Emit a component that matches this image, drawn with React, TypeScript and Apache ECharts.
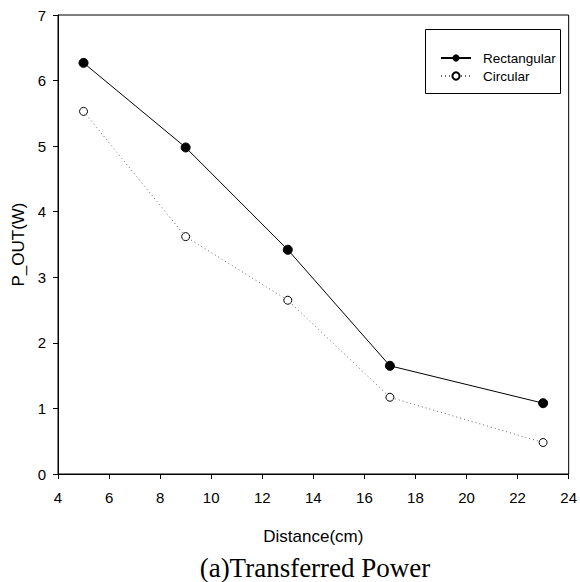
import React, { useEffect, useRef } from "react";
import * as echarts from "echarts";

const distances = [5, 9, 13, 17, 23];
const rectangular = [6.27, 4.98, 3.42, 1.65, 1.08];
const circular = [5.53, 3.62, 2.65, 1.17, 0.48];
const xTicks = { min: 4, max: 24, interval: 2 };
const yTicks = { min: 0, max: 7, interval: 1 };

const FONT = "Liberation Sans, Arial, sans-serif";

export default function App() {
  const ref = useRef<HTMLDivElement>(null);
  useEffect(() => {
    if (!ref.current) return;
    const chart = echarts.init(ref.current, undefined, { renderer: "svg" });
    chart.setOption({
      animation: false,
      backgroundColor: "#fff",
      grid: {
        left: 58,
        right: 8,
        top: 15,
        bottom: 108,
        show: true,
        borderColor: "#000",
        borderWidth: 1,
      },
      title: {
        text: "(a)Transferred Power",
        left: 310,
        textAlign: "center",
        top: 549,
        textStyle: {
          fontFamily: "Liberation Serif, Times New Roman, serif",
          fontSize: 27,
          fontWeight: "normal",
          color: "#000",
        },
      },
      legend: {
        orient: "vertical",
        left: 435,
        top: 46,
        itemWidth: 30,
        itemHeight: 9,
        itemGap: 4,
        textStyle: {
          fontFamily: FONT,
          fontSize: 13.5,
          color: "#000",
          padding: [0, 0, 0, 7],
        },
        data: ["Rectangular", "Circular"],
      },
      graphic: [
        {
          type: "rect",
          shape: { x: 425.5, y: 29.5, width: 135, height: 64 },
          style: { fill: "none", stroke: "#000", lineWidth: 1 },
          z: 10,
        },
      ],
      xAxis: {
        type: "value",
        min: xTicks.min,
        max: xTicks.max,
        interval: xTicks.interval,
        name: "Distance(cm)",
        nameLocation: "middle",
        nameGap: 54,
        nameTextStyle: { fontFamily: FONT, fontSize: 17, color: "#000" },
        axisLine: { show: true, lineStyle: { color: "#000", width: 1 } },
        axisTick: { show: true, inside: false, length: 5, lineStyle: { color: "#000" } },
        axisLabel: { fontFamily: FONT, fontSize: 15, color: "#000", margin: 16 },
        splitLine: { show: false },
      },
      yAxis: {
        type: "value",
        min: yTicks.min,
        max: yTicks.max,
        interval: yTicks.interval,
        name: "P_OUT(W)",
        nameLocation: "middle",
        nameGap: 30,
        nameRotate: 90,
        nameTextStyle: { fontFamily: FONT, fontSize: 17, color: "#000" },
        axisLine: { show: true, lineStyle: { color: "#000", width: 1 } },
        axisTick: { show: true, inside: false, length: 5, lineStyle: { color: "#000" } },
        axisLabel: { fontFamily: FONT, fontSize: 15, color: "#000", margin: 12 },
        splitLine: { show: false },
      },
      series: [
        {
          name: "Rectangular",
          type: "line",
          data: distances.map((d, i) => [d, rectangular[i]]),
          symbol: "circle",
          symbolSize: 9,
          showAllSymbol: true,
          itemStyle: { color: "#000", borderColor: "#000" },
          lineStyle: { color: "#000", width: 1 },
        },
        {
          name: "Circular",
          type: "line",
          data: distances.map((d, i) => [d, circular[i]]),
          symbol: "circle",
          symbolSize: 8,
          showAllSymbol: true,
          itemStyle: { color: "#fff", borderColor: "#000", borderWidth: 1 },
          lineStyle: { color: "#666", width: 1, type: [1, 3] },
        },
      ],
    });
    return () => chart.dispose();
  }, []);
  return (
    <div
      ref={ref}
      style={{ position: "fixed", left: 0, top: 0, width: 580, height: 582 }}
    />
  );
}
